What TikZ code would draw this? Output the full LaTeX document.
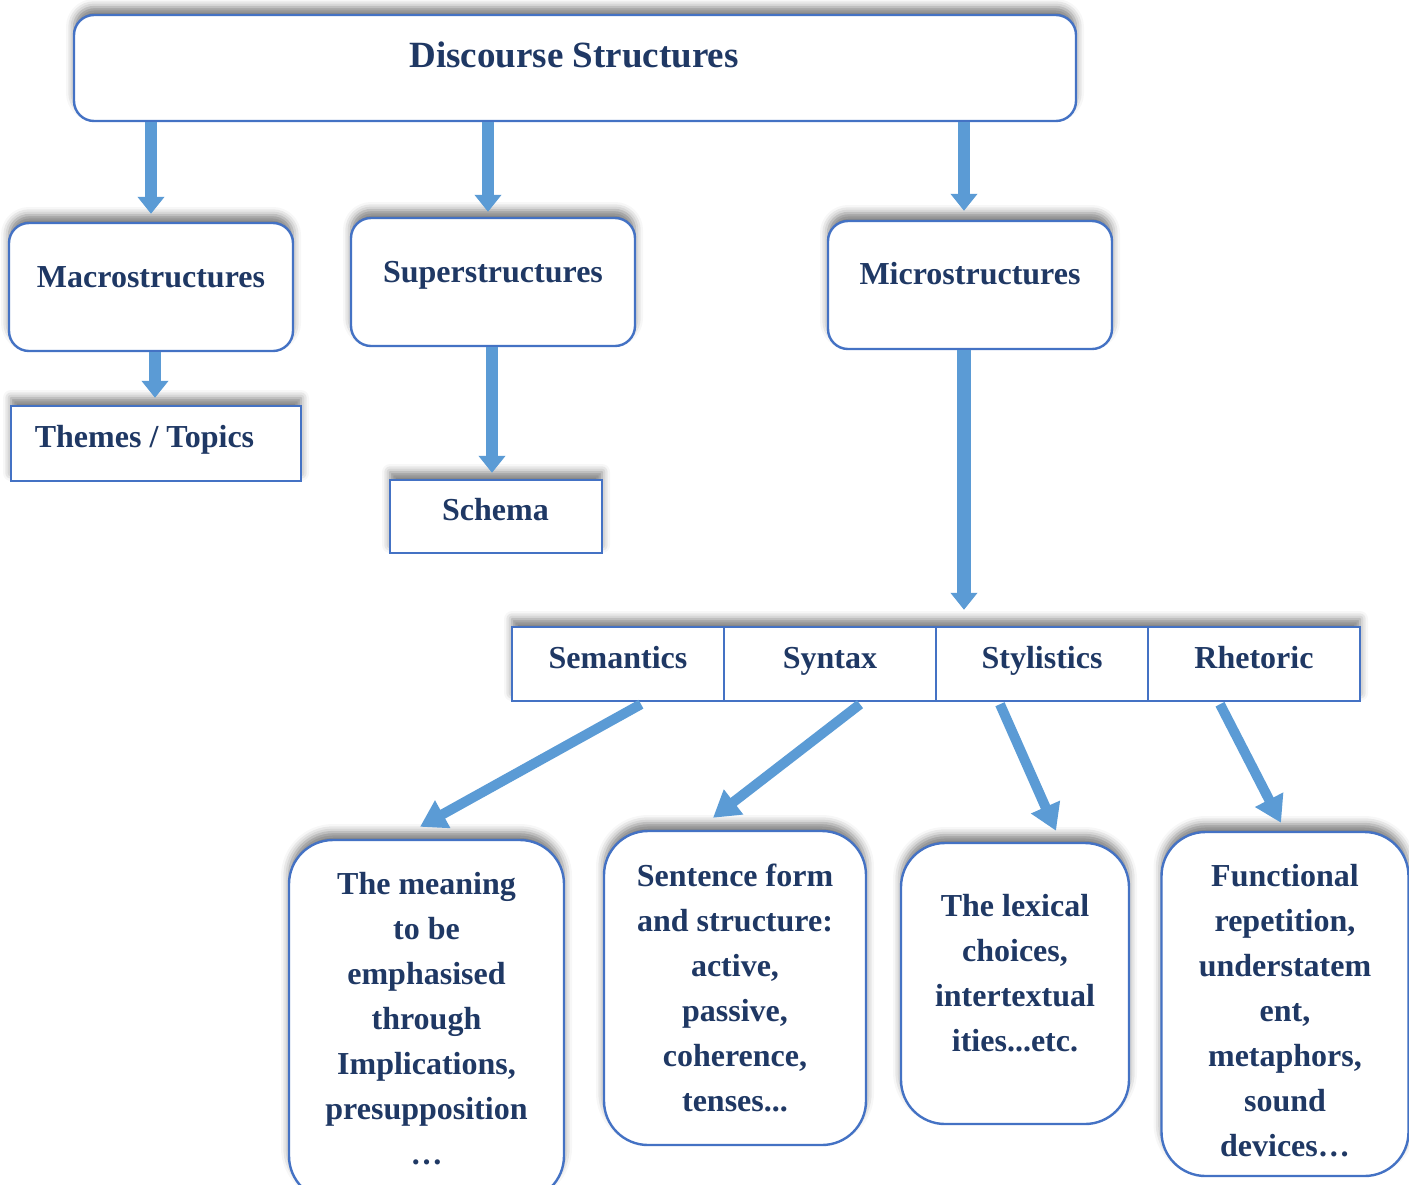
\documentclass[tikz,border=0pt]{standalone}
\usepackage{fontspec}
\setmainfont{Liberation Serif}
\usetikzlibrary{arrows.meta,calc,shadows.blur}
\definecolor{navy}{HTML}{1F3864}
\definecolor{bord}{HTML}{4472C4}
\definecolor{arr}{HTML}{5B9BD5}
\begin{document}
\begin{tikzpicture}[x=0.5pt,y=-0.5pt,
 shad/.style={blur shadow={shadow xshift=0pt,shadow yshift=4pt,shadow blur radius=4pt,shadow opacity=50}},
 rbox/.style={draw=bord,line width=1.2pt,fill=white,rounded corners=10pt,shad,inner sep=0pt},
 bigbox/.style={rbox,rounded corners=22pt},
 sbox/.style={draw=bord,line width=1.2pt,fill=white,shad,inner sep=0pt},
 cell/.style={draw=bord,line width=1.2pt,fill=white,inner sep=0pt,minimum width=106pt,minimum height=37pt},
 txt/.style={text=navy,font=\bfseries\fontsize{16}{22.5}\selectfont,align=center,inner sep=0pt},
 varr/.style={draw=arr,line width=6pt,-{Triangle[width=13pt,length=8.5pt]}},
 darr/.style={draw=arr,line width=5pt,-{Triangle[width=15pt,length=13pt]}}]
\useasboundingbox (0,0) rectangle (1409,1184);
\clip (0,0) rectangle (1409,1184);
% top box
\node[rbox,minimum width=501pt,minimum height=53pt] (top) at (575,68) {};
\node[txt,font=\bfseries\fontsize{18.5}{22}\selectfont,anchor=base] (ttop) at (574,67) {Discourse Structures};
% level 2
\node[rbox,minimum width=142pt,minimum height=64pt] (macro) at (151,287) {};
\node[rbox,minimum width=142pt,minimum height=64pt] (super) at (493,282) {};
\node[rbox,minimum width=142pt,minimum height=64pt] (micro) at (970,285) {};
\node[txt,anchor=base] (tmacro) at (151,287) {Macrostructures};
\node[txt,anchor=base] (tsuper) at (493,282) {Superstructures};
\node[txt,anchor=base] (tmicro) at (970,284) {Microstructures};
% level 3
\node[sbox,minimum width=145pt,minimum height=37.5pt] (themes) at (156,443.5) {};
\node[txt,anchor=base] (tthemes) at (144.5,447) {Themes / Topics};
\node[sbox,minimum width=106pt,minimum height=36.5pt] (schema) at (496,516.5) {};
\node[txt,anchor=base] (tschema) at (495.5,520) {Schema};
% table
\node[sbox,minimum width=424pt,minimum height=37pt] (tab) at (936,664) {};
\node[cell] (sem) at (618,664) {};
\node[cell] (syn) at (830,664) {};
\node[cell] (sty) at (1042,664) {};
\node[cell] (rhe) at (1254,664) {};
\node[txt,anchor=base] (tsem) at (618,668) {Semantics};
\node[txt,anchor=base] (tsyn) at (830,668) {Syntax};
\node[txt,anchor=base] (tsty) at (1042,668) {Stylistics};
\node[txt,anchor=base] (trhe) at (1254,668) {Rhetoric};
% bottom boxes
\node[bigbox,minimum width=137.5pt,minimum height=180pt] (b1) at (426.5,1020) {};
\node[bigbox,minimum width=131pt,minimum height=157pt] (b2) at (735,988) {};
\node[bigbox,minimum width=114pt,minimum height=140.5pt] (b3) at (1015,983.5) {};
\node[bigbox,minimum width=123.5pt,minimum height=172pt] (b4) at (1285,1004) {};
\node[txt] (tb1) at (426.5,1019) {The meaning\\to be\\emphasised\\through\\Implications,\\presupposition\\…};
\node[txt] (tb2) at (735,988) {Sentence form\\and structure:\\active,\\passive,\\coherence,\\tenses...};
\node[txt] (tb3) at (1015,973) {The lexical\\choices,\\intertextual\\ities...etc.};
\node[txt] (tb4) at (1285,1011) {Functional\\repetition,\\understatem\\ent,\\metaphors,\\sound\\devices…};
% vertical arrows
\draw[varr] ($(top.south)+(-424,0)$) -- ($(macro.north)+(0,-8)$);
\draw[varr] ($(top.south)+(-87,0)$) -- ($(super.north)+(-5,-5)$);
\draw[varr] ($(top.south)+(389,0)$) -- ($(micro.north)+(-6,-9)$);
\draw[varr] ($(macro.south)+(4,0)$) -- ($(themes.north)+(-1,-7)$);
\draw[varr] ($(super.south)+(-1,0)$) -- ($(schema.north)+(-4,-6)$);
\draw[varr,line width=7pt] ($(micro.south)+(-6,0)$) -- ($(micro.south |- tab.north)+(-6,-16)$);
% diagonal arrows
\draw[darr] ($(sem.south)+(23,2)$) -- ($(b1.north)+(-6.5,-12)$);
\draw[darr] ($(syn.south)+(30,2)$) -- ($(b2.north)+(-22,-12)$);
\draw[darr] ($(sty.south)+(-42,2)$) -- ($(b3.north)+(41,-11)$);
\draw[darr] ($(rhe.south)+(-34,2)$) -- ($(b4.north)+(-4,-8)$);
\end{tikzpicture}
\end{document}
